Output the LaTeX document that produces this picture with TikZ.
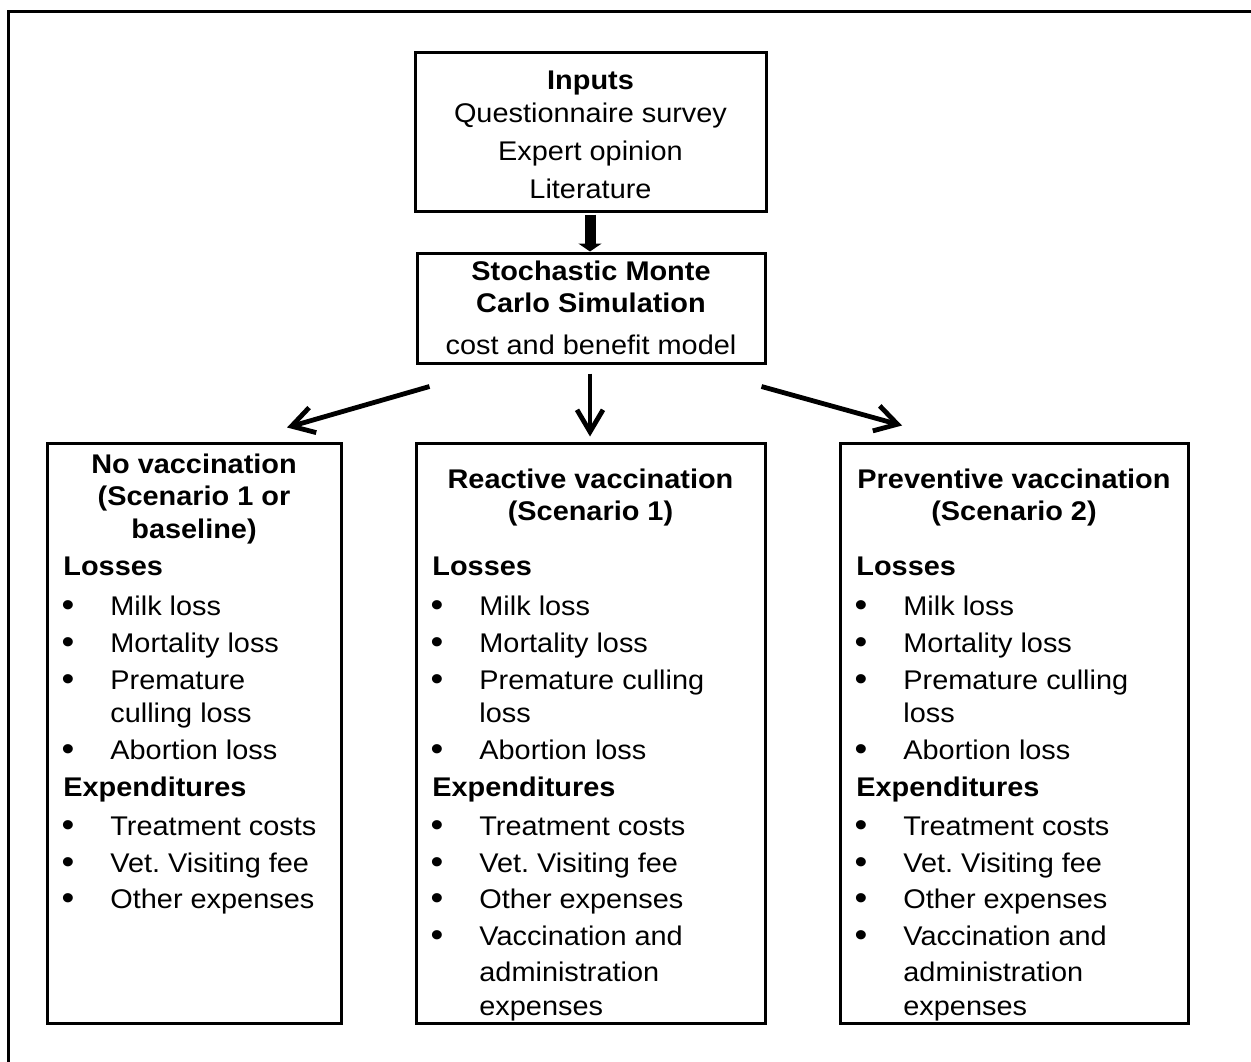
\documentclass[tikz,border=0pt]{standalone}
\usepackage{fontspec}
\setmainfont{Liberation Sans}[FakeStretch=1.07]
\usetikzlibrary{arrows.meta,fit}
\frenchspacing
\newcommand\bulline[3]{%
  \node[txt] (#1-dot) at (\bx+21,#2) {\raisebox{-0.8pt}{\fontsize{17pt}{17pt}\selectfont\textbullet}};
  \node[lft] (#1) at (\bx+63,#2) {#3};}
\newcommand\contline[3]{\node[lft] (#1) at (\bx+63,#2) {#3};}
\begin{document}
\begin{tikzpicture}[x=0.5pt,y=-0.5pt,
  frame/.style={draw, line width=1.5pt, inner sep=0pt},
  txt/.style={font=\fontsize{13.5pt}{15pt}\selectfont, inner sep=0pt, anchor=base},
  hd/.style={txt, font=\fontsize{13.5pt}{15pt}\selectfont\bfseries},
  lft/.style={txt, anchor=base west},
  arr/.style={line width=2.4pt, -{Straight Barb[length=11pt,width=13pt]}},
  thickarr/.style={line width=5.5pt, -{Triangle[width=11.5pt,length=4pt]}},
]
\useasboundingbox (0,0) rectangle (1251,1061);
\begin{scope}
  \clip (0,0) rectangle (1251,1061);
  \draw[line width=1.5pt] (8,11.5) rectangle (1400,1200);
\end{scope}

% boxes
\node[frame, fit={(415,52)(766,211)}] (inputs) {};
\node[frame, fit={(417,253)(765,363)}] (sim) {};
\node[frame, fit={(47,443)(341,1023)}] (s0) {};
\node[frame, fit={(416,443)(765,1023)}] (s1) {};
\node[frame, fit={(840,443)(1188,1023)}] (s2) {};

% inputs text
\node[hd]  (inT) at (590.5,89)  {Inputs};
\node[txt] (in1) at (590.5,122) {Questionnaire survey};
\node[txt] (in2) at (590.5,160) {Expert opinion};
\node[txt] (in3) at (590.5,198) {Literature};

% simulation text
\node[hd]  (simT1) at (591,280) {Stochastic Monte};
\node[hd]  (simT2) at (591,312) {Carlo Simulation};
\node[txt] (sim1)  at (591,354) {cost and benefit model};

% scenario titles
\node[hd] (t0a) at (194,473)   {No vaccination};
\node[hd] (t0b) at (194,505.5) {(Scenario 1 or};
\node[hd] (t0c) at (194,538)   {baseline)};
\node[hd] (t1a) at (590.5,488) {Reactive vaccination};
\node[hd] (t1b) at (590.5,520) {(Scenario 1)};
\node[hd] (t2a) at (1014,488)  {Preventive vaccination};
\node[hd] (t2b) at (1014,520)  {(Scenario 2)};

% common body lines
\foreach \bx/\nm in {47/a, 416/b, 840/c} {
  \node[hd, anchor=base west] (\nm-losses) at (\bx+16,575) {Losses};
  \bulline{\nm-milk}{615}{Milk loss}
  \bulline{\nm-mort}{652}{Mortality loss}
  \bulline{\nm-abort}{759}{Abortion loss}
  \node[hd, anchor=base west] (\nm-exp) at (\bx+16,796) {Expenditures};
  \bulline{\nm-treat}{835}{Treatment costs}
  \bulline{\nm-vet}{872}{Vet. Visiting fee}
  \bulline{\nm-other}{908}{Other expenses}
}
% left box specific
\foreach \bx/\nm in {47/a} {
  \bulline{\nm-prem}{689}{Premature}
  \contline{\nm-prem2}{722}{culling loss}
}
% middle and right specific
\foreach \bx/\nm in {416/b, 840/c} {
  \bulline{\nm-prem}{689}{Premature culling}
  \contline{\nm-prem2}{722}{loss}
  \bulline{\nm-vacc}{945}{Vaccination and}
  \contline{\nm-vacc2}{981}{administration}
  \contline{\nm-vacc3}{1015}{expenses}
}

% arrows
\draw[thickarr] ([shift={(-0.5,2)}]inputs.south) -- ([shift={(-1,0)}]sim.north);
\draw[arr] ([shift={(14,22)}]sim.south west) -- ([shift={(93,-14)}]s0.north);
\draw[arr] ([shift={(-1,9)}]sim.south) -- ([shift={(-0.5,-5)}]s1.north);
\draw[arr] ([shift={(-5,22)}]sim.south east) -- ([shift={(-112,-16)}]s2.north);
\end{tikzpicture}
\end{document}
